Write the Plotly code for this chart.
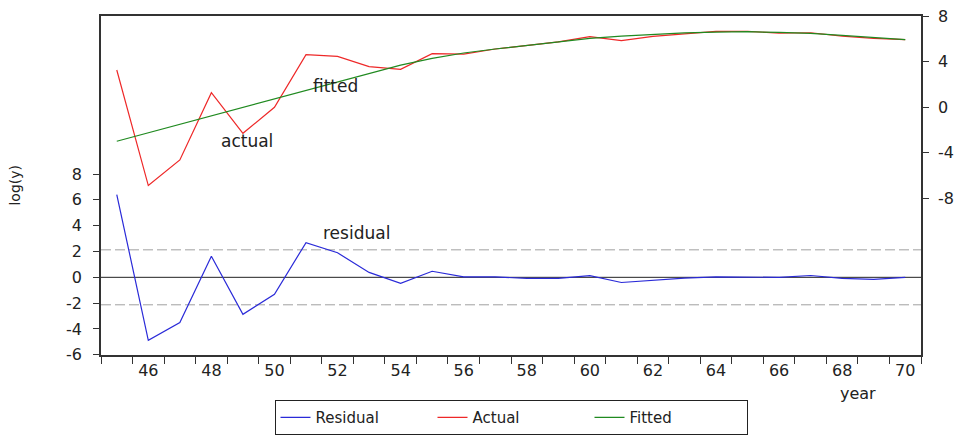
import plotly.graph_objects as go

years = list(range(45, 71))
x_ticks = list(range(46, 71, 2))
x_labels = [str(v) for v in x_ticks]
left_ticks = [-6, -4, -2, 0, 2, 4, 6, 8]
left_labels = [str(v) for v in left_ticks]
right_ticks = [-8, -4, 0, 4, 8]
right_labels = [str(v) for v in right_ticks]

residual = [6.41, -4.88, -3.51, 1.63, -2.87, -1.32, 2.69, 1.90, 0.38, -0.46,
            0.47, 0.03, 0.03, -0.08, -0.08, 0.13, -0.40, -0.25, -0.06, 0.03,
            0.03, 0.00, 0.14, -0.08, -0.16, 0.00]
actual = [3.28, -6.87, -4.62, 1.29, -2.28, 0.00, 4.62, 4.47, 3.57, 3.34,
          4.71, 4.68, 5.12, 5.41, 5.75, 6.20, 5.85, 6.23, 6.47, 6.67,
          6.67, 6.52, 6.55, 6.26, 6.05, 5.94]
fitted = [-2.98, -2.24, -1.50, -0.77, -0.03, 0.71, 1.44, 2.18, 2.92, 3.70,
          4.30, 4.77, 5.12, 5.44, 5.76, 6.05, 6.26, 6.41, 6.53, 6.61,
          6.64, 6.58, 6.49, 6.32, 6.14, 5.94]
se_band = 2.13

FONT = "DejaVu Sans"
AXC = "#333333"
TXT = "#222222"

fig = go.Figure()
fig.add_trace(go.Scatter(x=years, y=residual, name="Residual", mode="lines",
                         line=dict(color="#2a2ad8", width=1.2), yaxis="y"))
fig.add_trace(go.Scatter(x=years, y=actual, name="Actual", mode="lines",
                         line=dict(color="#ee2828", width=1.2), yaxis="y2"))
fig.add_trace(go.Scatter(x=years, y=fitted, name="Fitted", mode="lines",
                         line=dict(color="#208a20", width=1.2), yaxis="y2"))

shapes = []
for v in (se_band, -se_band):
    shapes.append(dict(type="line", xref="paper", x0=0, x1=1, yref="y", y0=v, y1=v,
                       line=dict(color="#a0a0a0", width=1, dash="10px,4px"), layer="below"))
shapes.append(dict(type="line", xref="paper", x0=0, x1=1, yref="y", y0=0, y1=0,
                   line=dict(color="#222222", width=1), layer="below"))

fig.update_layout(
    width=960, height=436,
    margin=dict(l=101, r=39, t=16, b=81, autoexpand=False),
    paper_bgcolor="white", plot_bgcolor="white",
    font=dict(family=FONT, size=16, color=TXT),
    showlegend=True,
    legend=dict(orientation="h", x=0.5, xanchor="center", y=-0.133, yanchor="top",
                bordercolor="#222222", borderwidth=1, font=dict(size=15),
                entrywidth=112, entrywidthmode="pixels", tracegroupgap=0),
    xaxis=dict(range=[44.5, 70.5], tickmode="array", tickvals=x_ticks, ticktext=x_labels,
               ticks="", showgrid=False, zeroline=False, showline=True, mirror=True,
               automargin=False,
               linecolor=AXC, linewidth=1.5, tickfont=dict(size=16, color=TXT),
               minor=dict(tickmode="linear", tick0=44.5, dtick=1, ticks="outside",
                          ticklen=7, tickcolor=AXC, tickwidth=1.3, showgrid=False)),
    yaxis=dict(range=[-6.02, 20.25], tickmode="array", tickvals=left_ticks, ticktext=left_labels,
               ticks="outside", ticklen=6, tickcolor=AXC, tickwidth=1.3, automargin=False,
               showgrid=False, zeroline=False, showline=True, linecolor=AXC, linewidth=1.5,
               tickfont=dict(size=16, color=TXT), ticklabelstandoff=8),
    yaxis2=dict(range=[-21.75, 8.02], overlaying="y", side="right", tickmode="array",
                tickvals=right_ticks, ticktext=right_labels, automargin=False,
                ticks="outside", ticklen=6, tickcolor=AXC, tickwidth=1.3,
                showgrid=False, zeroline=False, showline=True, linecolor=AXC, linewidth=1.5,
                tickfont=dict(size=16, color=TXT), ticklabelstandoff=6),
    shapes=shapes,
    annotations=[
        dict(text="fitted", x=51.95, y=1.9, xref="x", yref="y2", showarrow=False,
             font=dict(size=17, color=TXT)),
        dict(text="actual", x=49.13, y=-3.0, xref="x", yref="y2", showarrow=False,
             font=dict(size=17, color=TXT)),
        dict(text="residual", x=52.59, y=3.45, xref="x", yref="y", showarrow=False,
             font=dict(size=17, color=TXT)),
        dict(text="year", x=0.923, y=-0.115, xref="paper", yref="paper", showarrow=False,
             xanchor="center", yanchor="middle", font=dict(size=16, color=TXT)),
        dict(text="log(y)", x=-0.106, y=0.5, xref="paper", yref="paper", showarrow=False,
             textangle=-90, xanchor="center", yanchor="middle", font=dict(size=14, color=TXT)),
    ],
)

fig.write_html("out.html", config={"displayModeBar": False},
               post_script="document.body.style.margin='0';document.body.style.padding='0';")
